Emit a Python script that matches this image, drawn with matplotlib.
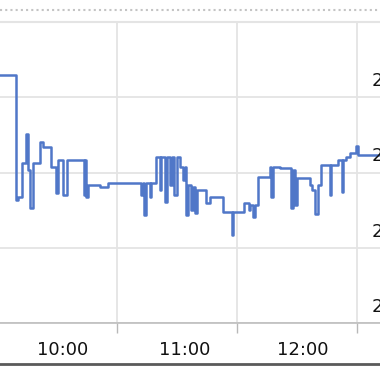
import matplotlib
matplotlib.use("Agg")
import matplotlib.pyplot as plt
from matplotlib.lines import Line2D
from matplotlib.transforms import ScaledTranslation
import pandas as pd

# step trend data (value holds until next timestamp)
times = [
    "09:31:30", "09:39:30", "09:40:30", "09:42:30", "09:44:30", "09:45:30", "09:46:30",
    "09:48:00", "09:51:30", "09:53:00", "09:57:00", "09:59:30", "10:00:30", "10:03:00",
    "10:05:00", "10:13:30", "10:14:00", "10:14:30", "10:15:30", "10:21:30", "10:25:30",
    "10:42:00", "10:43:00", "10:43:30", "10:44:30", "10:46:30", "10:47:00", "10:49:30",
    "10:51:30", "10:52:00", "10:54:00", "10:55:00", "10:56:30", "10:57:30", "10:58:30",
    "11:00:00", "11:01:30", "11:03:00", "11:04:00", "11:04:30", "11:05:30", "11:07:00",
    "11:08:00", "11:09:00", "11:10:00", "11:14:30", "11:16:30", "11:23:00", "11:27:30",
    "11:28:00", "11:33:30", "11:36:00", "11:36:30", "11:38:00", "11:39:00", "11:40:30",
    "11:46:30", "11:47:00", "11:48:00", "11:51:30", "11:57:00", "11:58:00", "11:59:00",
    "12:00:00", "12:06:30", "12:07:30", "12:09:00", "12:10:30", "12:12:00", "12:16:30",
    "12:17:00", "12:20:30", "12:22:30", "12:23:00", "12:24:30", "12:26:30", "12:29:30",
    "12:30:30", "12:41:30",
]
values = [
    233.0, 216.3, 216.7, 221.3, 225.1, 220.3, 215.3,
    221.3, 224.1, 223.4, 220.7, 217.3, 221.7, 217.0,
    221.7, 217.0, 221.7, 216.7, 218.3, 218.1, 218.6,
    217.0, 218.6, 214.4, 218.6, 216.7, 218.6, 222.1,
    217.7, 222.1, 216.1, 222.1, 218.3, 222.1, 217.0,
    222.1, 220.7, 219.0, 220.7, 214.4, 218.3, 215.0,
    218.1, 214.6, 217.7, 215.9, 216.7, 214.8, 211.7,
    214.8, 215.9, 215.0, 215.7, 214.1, 215.7, 219.4,
    220.7, 216.7, 220.7, 220.6, 215.3, 220.3, 215.7,
    219.3, 218.3, 217.7, 214.5, 218.3, 221.0, 217.0,
    221.0, 221.7, 217.4, 221.7, 222.1, 222.6, 223.5,
    222.3, 222.3,
]
hour_labels = ["10:00", "11:00", "12:00"]
y_ticks = [200, 210, 220, 230]

day = "2024-01-01 "
t = pd.to_datetime([day + s for s in times])

fig = plt.figure(figsize=(3.8, 3.72), dpi=100)
ax = fig.add_axes([0, 49 / 372, 1, 301 / 372])

ax.step(t, values, where="post", color="#5077c8", lw=1.8)

ax.set_xlim(pd.Timestamp(day + "09:31:30"), pd.Timestamp(day + "12:41:30"))
ax.set_ylim(200, 240)

# gridlines at half hours, labels near the hour
grid_pos = pd.to_datetime([day + "10:30", day + "11:30", day + "12:30"])
label_pos = pd.to_datetime([day + "10:03", day + "11:04", day + "12:03"])
ax.set_xticks(grid_pos)
ax.set_xticklabels([])
ax.set_xticks(label_pos, minor=True)
ax.set_xticklabels(hour_labels, minor=True)
ax.tick_params(axis="x", which="major", direction="out", length=7, width=1, color="#b8b8b8")
ax.tick_params(axis="x", which="minor", length=0, pad=13, labelsize=13, labelcolor="#111111")

ax.set_yticks(y_ticks)
ax.tick_params(axis="y", length=0, labelleft=False)
ax.grid(True, which="major", color="#e4e4e4", lw=1.3)
ax.set_axisbelow(True)

# right-hand value labels, cut by the figure edge as in the source screenshot
off = ScaledTranslation(0, 8 / 72, fig.dpi_scale_trans)
for v in y_ticks:
    ax.text(0.978, v, str(v), transform=ax.get_yaxis_transform() + off,
            ha="left", va="baseline", fontsize=13, color="#111111", clip_on=False)

for s in ["left", "right"]:
    ax.spines[s].set_visible(False)
ax.spines["top"].set_color("#e4e4e4")
ax.spines["top"].set_linewidth(1.5)
ax.spines["bottom"].set_color("#bdbdbd")
ax.spines["bottom"].set_linewidth(1.2)

# dotted separator at top and dark frame line at bottom
fig.add_artist(Line2D([0, 1], [1 - 10 / 372] * 2, color="#c4c4c4", lw=1.5, ls=(0, (1, 1.5))))
fig.add_artist(Line2D([0, 1], [1 - 364 / 372] * 2, color="#5a5a5a", lw=2))

plt.savefig("out.png", dpi=100)
